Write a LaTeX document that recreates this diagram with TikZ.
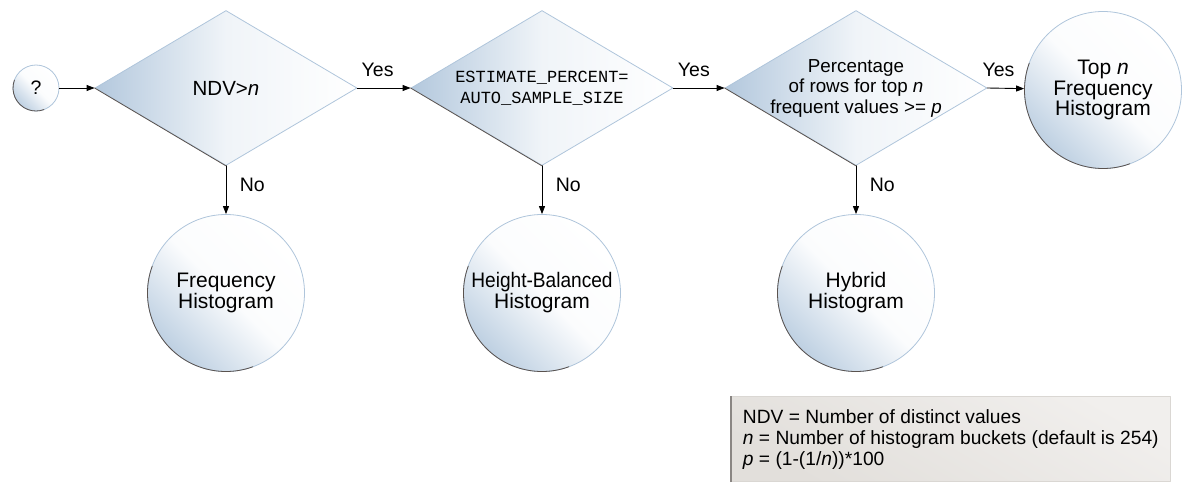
\documentclass[tikz,border=0pt]{standalone}
\usepackage{fontspec}
\usepackage{graphicx}
\setmainfont{Liberation Sans}
\setmonofont{Liberation Mono}
\usetikzlibrary{shapes.geometric,arrows.meta}
\definecolor{fillblue}{HTML}{B3C8DD}
\definecolor{edgeblue}{HTML}{AFC5DB}
\definecolor{rimdark}{HTML}{5A524E}
\definecolor{keylight}{HTML}{F1EFED}
\definecolor{keydark}{HTML}{E2DFDB}
\definecolor{keyline}{HTML}{DAD7D3}
\definecolor{keyrule}{HTML}{8A8683}
\tikzset{
  decision/.style={diamond,draw=edgeblue,line width=.8pt,left color=fillblue,right color=white,
    middle color=fillblue!20!white,minimum width=262pt,minimum height=155pt,aspect=1.69,
    inner sep=-4pt,align=center},
  outcome/.style={circle,draw=edgeblue,line width=.8pt,bottom color=fillblue!85!white,top color=white,
    middle color=fillblue!5!white,shading angle=-45,minimum size=157pt,inner sep=1pt,align=center,
    font=\fontsize{21}{21}\selectfont},
  rim/.style={draw=rimdark,line width=.8pt},
  flow/.style={-{Triangle[length=8pt,width=6pt]},line width=.9pt},
  keybox/.style={rectangle,draw=keyline,line width=.6pt,top color=keylight,bottom color=keydark,
    shading angle=-30,minimum width=439pt,minimum height=85pt,align=left,
    font=\fontsize{19.2}{21}\selectfont}
}
\begin{document}
\begin{tikzpicture}[x=1pt,y=1pt,line cap=round,line join=round,every node/.style={font=\fontsize{19.5}{20}\selectfont}]
  \useasboundingbox (0,0) rectangle (1188,483);
  % top row: start, the three tests and the top-n outcome
  \node[outcome,minimum size=46pt,font=\fontsize{19.5}{20}\selectfont] (start) at (36,395) {?};
  \node[decision,font=\fontsize{20.5}{20}\selectfont] (ndv) at (226,395) {NDV>\textit{n}};
  \node[decision,font=\ttfamily\fontsize{17}{21}\selectfont] (est) at (542,395) {ESTIMATE\_PERCENT=\\AUTO\_SAMPLE\_SIZE};
  \node[decision,font=\fontsize{18.8}{20.5}\selectfont] (pct) at (856,395) {Percentage\\of rows for top \textit{n}\\frequent values >= \textit{p}};
  \node[outcome,font=\fontsize{21}{20.5}\selectfont] (topn) at (1103,393) {Top \textit{n}\\Frequency\\Histogram};

  % bottom row
  \node[outcome] (freq) at (226,190) {Frequency\\Histogram};
  \node[outcome] (hbal) at (542,190) {\scalebox{.91}[1]{Height-Balanced}\\Histogram};
  \node[outcome] (hyb) at (856,190) {Hybrid\\Histogram};

  % dark rims on the lower left
  \foreach \d in {ndv,est,pct}
    \draw[rim] (\d.west) -- (\d.south);
  \foreach \c in {freq,hbal,hyb,topn}
    \draw[rim] ([shift={(160:78.5)}]\c.center) arc (160:290:78.5);
  \draw[rim] ([shift={(160:23)}]start.center) arc (160:290:23);

  \draw[flow] (start) -- (ndv.west);
  \draw[flow] (ndv.east) -- node[above=8pt,pos=.38] {Yes} (est.west);
  \draw[flow] (est.east) -- node[above=8pt,pos=.4] {Yes} (pct.west);
  \draw[flow] (pct.east) -- node[above=8pt,pos=.3] {Yes} (topn);
  \draw[flow] (ndv.south) -- node[right=10pt,pos=.4] {No} (freq);
  \draw[flow] (est.south) -- node[right=10pt,pos=.4] {No} (hbal);
  \draw[flow] (pct.south) -- node[right=10pt,pos=.4] {No} (hyb);

  % key
  \node[keybox,anchor=south west] (key) at (731,1) {NDV = Number of distinct values\\\textit{n} = Number of histogram buckets (default is 254)\\\textit{p} = (1-(1/\textit{n}))*100};
  \draw[draw=keyrule,line width=2.4pt,line cap=butt] (key.south west) -- (key.north west);
\end{tikzpicture}
\end{document}
